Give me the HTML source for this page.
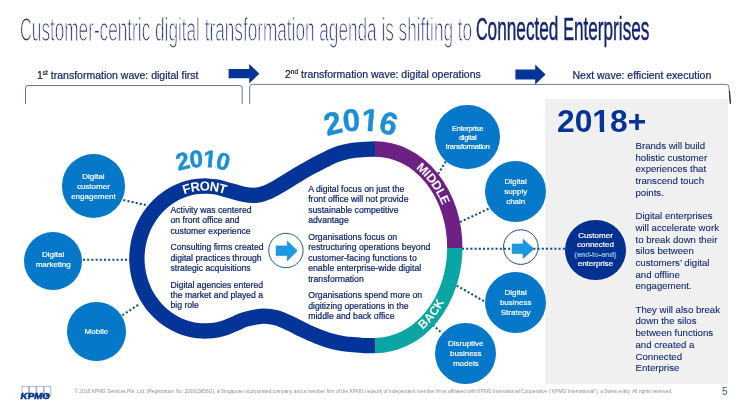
<!DOCTYPE html>
<html lang="en">
<head>
<meta charset="utf-8">
<title>Customer-centric digital transformation agenda</title>
<style>
html,body{margin:0;padding:0;}
body{width:746px;height:412px;position:relative;overflow:hidden;background:#fff;font-family:"Liberation Sans",Arial,sans-serif;color:#00338D;}
.abs{position:absolute;white-space:nowrap;}
#title{left:20px;top:11.2px;font-size:34px;line-height:36px;height:36px;}
#title span{display:inline-block;transform-origin:0 50%;}
#t1{transform:scaleX(0.5054);color:#252f72;-webkit-text-stroke:1.2px #fff;}
#t2{position:absolute;left:456.4px;top:-0.6px;font-size:33.4px;transform:scaleX(0.5152);color:#14266f;-webkit-text-stroke:0.5px #14266f;}
.wave{font-size:10.5px;line-height:12px;color:#12256b;-webkit-text-stroke:0.2px #12256b;}
.wave .k{color:#1a1a1a;-webkit-text-stroke:0.2px #1a1a1a;}
.wave sup{font-size:6.5px;line-height:0;vertical-align:baseline;position:relative;top:-4px;}
#panel{left:545px;top:99px;width:183.3px;height:285px;background:#f0f0f0;}
.bub{position:absolute;border-radius:50%;background:#0578C9;color:#fff;text-align:center;font-size:8px;line-height:10px;display:flex;align-items:center;justify-content:center;}
.bub div{white-space:nowrap;position:relative;top:0.6px;-webkit-text-stroke:0.2px #fff;}
.body{font-size:8.65px;line-height:10.45px;color:#0a2370;white-space:nowrap;-webkit-text-stroke:0.2px #0a2370;}
.body p{margin:0 0 6.1px 0;}
#rt{left:635.5px;top:139.9px;font-size:9.65px;line-height:11.7px;color:#0d2674;white-space:nowrap;-webkit-text-stroke:0.08px #0d2674;}
#foot{left:74.4px;top:389.4px;font-size:4.875px;line-height:6px;color:#8e8e8e;}
#pg{left:722px;top:386.3px;font-size:10px;line-height:12px;color:#41548c;}
svg{position:absolute;left:0;top:0;}
</style>
</head>
<body>
<div id="panel" class="abs"></div>

<div id="title" class="abs"><span id="t1"><span style="font-size:32.4px">C</span>ustomer-centric digital transformation agenda is shifting to</span><span id="t2"><span style="font-size:31.2px">C</span>onnected <span style="font-size:31.2px">E</span>nterprises</span></div>

<div class="abs wave" id="w1" style="left:37px;top:68.8px;"><span class="k">1<sup>st</sup></span> transformation wave: digital first</div>
<div class="abs wave" id="w2" style="left:285px;top:67.9px;"><span class="k">2<sup>nd</sup></span> transformation wave: digital operations</div>
<div class="abs wave" id="w3" style="left:572.5px;top:68.9px;">Next wave: efficient execution</div>

<svg width="746" height="412" viewBox="0 0 746 412">
  <defs>
    <path id="pFront" d="M375.00 345.60 C372.33 345.63 367.93 345.72 365.00 345.60 C362.07 345.48 360.93 345.20 357.40 344.90 C353.87 344.60 348.30 344.47 343.80 343.80 C339.30 343.13 334.87 342.17 330.40 340.90 C325.93 339.63 321.47 337.98 317.00 336.20 C312.53 334.42 308.07 332.32 303.60 330.20 C299.13 328.08 294.67 325.55 290.20 323.50 C285.73 321.45 281.27 319.13 276.80 317.90 C272.33 316.67 267.87 316.05 263.40 316.10 C258.93 316.15 253.28 317.57 250.00 318.20 C246.72 318.83 246.03 319.05 243.70 319.90 C241.37 320.75 238.94 322.04 236.00 323.30 C233.06 324.56 229.24 326.35 226.04 327.45 C222.85 328.55 219.94 329.31 216.83 329.90 C213.71 330.48 210.53 330.84 207.38 330.96 C204.22 331.07 201.02 330.95 197.88 330.60 C194.74 330.25 191.59 329.66 188.53 328.85 C185.46 328.03 182.42 326.98 179.49 325.72 C176.56 324.46 173.69 322.97 170.95 321.29 C168.21 319.61 165.56 317.70 163.07 315.63 C160.58 313.56 158.21 311.28 156.01 308.86 C153.82 306.44 151.76 303.84 149.91 301.11 C148.05 298.39 146.35 295.51 144.87 292.54 C143.39 289.57 142.09 286.46 141.01 283.30 C139.93 280.14 139.04 276.86 138.39 273.57 C137.73 270.28 137.29 266.91 137.07 263.56 C136.85 260.20 136.85 256.80 137.07 253.44 C137.29 250.09 137.73 246.72 138.39 243.43 C139.04 240.14 139.93 236.86 141.01 233.70 C142.09 230.54 143.39 227.43 144.87 224.46 C146.35 221.49 148.05 218.61 149.91 215.89 C151.76 213.16 153.82 210.56 156.01 208.14 C158.21 205.72 160.58 203.44 163.07 201.37 C165.56 199.30 168.21 197.39 170.95 195.71 C173.69 194.03 176.56 192.54 179.49 191.28 C182.42 190.02 185.46 188.97 188.53 188.15 C191.59 187.34 194.74 186.75 197.88 186.40 C201.02 186.05 204.22 185.93 207.38 186.04 C210.53 186.16 213.71 186.52 216.83 187.10 C219.94 187.69 221.61 188.37 226.04 189.55 C230.47 190.73 238.27 193.27 243.40 194.20 C248.53 195.13 252.33 195.65 256.80 195.10 C261.27 194.55 265.73 192.85 270.20 190.90 C274.67 188.95 279.13 186.03 283.60 183.40 C288.07 180.77 292.53 177.77 297.00 175.10 C301.47 172.43 305.93 169.85 310.40 167.40 C314.87 164.95 319.93 162.37 323.80 160.40 C327.67 158.43 330.07 157.00 333.60 155.60 C337.13 154.20 341.43 152.90 345.00 152.00 C348.57 151.10 351.67 150.65 355.00 150.20 C358.33 149.75 361.67 149.50 365.00 149.30 C368.33 149.10 372.33 149.02 375.00 149.00"/>
    <path id="pPurple" d="M375.00 149.00 A79.80 98.30 0 0 1 454.80 247.30 L454.80 247.90"/>
    <path id="pTealRev" d="M375.00 345.60 A79.80 98.30 0 0 0 454.80 247.30"/>
    <path id="arc2010" d="M152.5 186 A75 75 0 0 1 252.5 186"/>
    <path id="arc2016" d="M300.5 150.2 A102 102 0 0 1 420.5 150.2"/>
  </defs>

  <!-- brackets -->
  <path d="M25.5 104 V88 Q25.5 85.5 28 85.5 H239.7 Q242.2 85.5 242.2 88 V104" fill="none" stroke="#5f6b82" stroke-width="0.9"/>
  <path d="M249.7 104 V87 Q249.7 84.4 252.2 84.4 H726.4 Q728.7 84.4 729 87 L730.4 103.8" fill="none" stroke="#5f6b82" stroke-width="0.9"/>
  <path d="M729.4 91 L730.4 103.8" fill="none" stroke="#16275f" stroke-width="1.2"/>

  <!-- header arrows -->
  <path d="M228.6 69.1 H249.2 V64 L259.4 73.7 L249.2 83.4 V78.3 H228.6 Z" fill="#043497"/>
  <path d="M515.4 69.4 H535.2 V64.4 L545.6 74.4 L535.2 84.5 V79.5 H515.4 Z" fill="#043497"/>

  <!-- dotted connectors -->
  <g fill="none" stroke="#0B4C93" stroke-width="2.1" stroke-dasharray="2 2.2">
    <path d="M123.4 200 L148 205.5"/>
    <path d="M83 259.8 L130 259.8"/>
    <path d="M122.4 315.2 L140 303.7"/>
    <path d="M445.8 161.5 L437.5 175"/>
    <path d="M488.5 208.8 L459.6 222.2"/>
    <path d="M462 248.8 L566 248.8"/>
    <path d="M456.7 285.6 L485.6 302.1"/>
    <path d="M432.8 324.8 L441.7 333"/>
  </g>

  <!-- ring -->
  <g fill="none" stroke-width="15.3" stroke-linejoin="round">
    <path d="M375.00 345.60 C372.33 345.63 367.93 345.72 365.00 345.60 C362.07 345.48 360.93 345.20 357.40 344.90 C353.87 344.60 348.30 344.47 343.80 343.80 C339.30 343.13 334.87 342.17 330.40 340.90 C325.93 339.63 321.47 337.98 317.00 336.20 C312.53 334.42 308.07 332.32 303.60 330.20 C299.13 328.08 294.67 325.55 290.20 323.50 C285.73 321.45 281.27 319.13 276.80 317.90 C272.33 316.67 267.87 316.05 263.40 316.10 C258.93 316.15 253.28 317.57 250.00 318.20 C246.72 318.83 246.03 319.05 243.70 319.90 C241.37 320.75 238.94 322.04 236.00 323.30 C233.06 324.56 229.24 326.35 226.04 327.45 C222.85 328.55 219.94 329.31 216.83 329.90 C213.71 330.48 210.53 330.84 207.38 330.96 C204.22 331.07 201.02 330.95 197.88 330.60 C194.74 330.25 191.59 329.66 188.53 328.85 C185.46 328.03 182.42 326.98 179.49 325.72 C176.56 324.46 173.69 322.97 170.95 321.29 C168.21 319.61 165.56 317.70 163.07 315.63 C160.58 313.56 158.21 311.28 156.01 308.86 C153.82 306.44 151.76 303.84 149.91 301.11 C148.05 298.39 146.35 295.51 144.87 292.54 C143.39 289.57 142.09 286.46 141.01 283.30 C139.93 280.14 139.04 276.86 138.39 273.57 C137.73 270.28 137.29 266.91 137.07 263.56 C136.85 260.20 136.85 256.80 137.07 253.44 C137.29 250.09 137.73 246.72 138.39 243.43 C139.04 240.14 139.93 236.86 141.01 233.70 C142.09 230.54 143.39 227.43 144.87 224.46 C146.35 221.49 148.05 218.61 149.91 215.89 C151.76 213.16 153.82 210.56 156.01 208.14 C158.21 205.72 160.58 203.44 163.07 201.37 C165.56 199.30 168.21 197.39 170.95 195.71 C173.69 194.03 176.56 192.54 179.49 191.28 C182.42 190.02 185.46 188.97 188.53 188.15 C191.59 187.34 194.74 186.75 197.88 186.40 C201.02 186.05 204.22 185.93 207.38 186.04 C210.53 186.16 213.71 186.52 216.83 187.10 C219.94 187.69 221.61 188.37 226.04 189.55 C230.47 190.73 238.27 193.27 243.40 194.20 C248.53 195.13 252.33 195.65 256.80 195.10 C261.27 194.55 265.73 192.85 270.20 190.90 C274.67 188.95 279.13 186.03 283.60 183.40 C288.07 180.77 292.53 177.77 297.00 175.10 C301.47 172.43 305.93 169.85 310.40 167.40 C314.87 164.95 319.93 162.37 323.80 160.40 C327.67 158.43 330.07 157.00 333.60 155.60 C337.13 154.20 341.43 152.90 345.00 152.00 C348.57 151.10 351.67 150.65 355.00 150.20 C358.33 149.75 361.67 149.50 365.00 149.30 C368.33 149.10 372.33 149.02 375.00 149.00" stroke="#043497"/>
    <path d="M454.80 247.30 A79.80 98.30 0 0 1 375.00 345.60" stroke="#0BA6A4"/>
    <path d="M375.00 149.00 A79.80 98.30 0 0 1 454.80 247.30 L454.80 247.90" stroke="#6E2184"/>
  </g>

  <!-- arrow icons -->
  <circle cx="285.9" cy="250.5" r="17.2" fill="#fff" stroke="#1C5E9E" stroke-width="1"/>
  <path d="M276.1 245.9 H287.3 V241.1 L297.3 250.7 L287.3 260.8 V255.4 H276.1 Z" fill="#1A9AE0" stroke="#1783c4" stroke-width="0.6"/>
  <circle cx="520.8" cy="247.1" r="17.3" fill="none" stroke="#1C4F92" stroke-width="1"/>
  <path d="M512.2 244 H523.1 V239.3 L533.9 248.9 L523.1 258.5 V253.6 H512.2 Z" fill="#1A9AE0" stroke="#1783c4" stroke-width="0.6"/>

  <!-- curved labels -->
  <g font-family="Liberation Sans, Arial, sans-serif" font-weight="bold" fill="#fff">
    <text font-size="13" dy="4.6" text-anchor="middle"><textPath href="#pFront" startOffset="398.2">FRONT</textPath></text>
    <text font-size="12.5" dy="4.5" text-anchor="middle"><textPath href="#pPurple" startOffset="71.4">MIDDLE</textPath></text>
    <text font-size="12" dy="2.6" text-anchor="middle"><textPath href="#pTealRev" startOffset="67.5">BACK</textPath></text>
  </g>
  <g font-family="Liberation Sans, Arial, sans-serif" font-weight="bold" fill="#1B8FD6">
    <text font-size="24" letter-spacing="-1.1" stroke="#1B8FD6" stroke-width="0.5"><textPath href="#arc2010" startOffset="50%" text-anchor="middle">2010</textPath></text>
    <text font-size="31.5" letter-spacing="-0.6" stroke="#1B8FD6" stroke-width="0.4"><textPath href="#arc2016" startOffset="50%" text-anchor="middle">2016</textPath></text>
  </g>
  <g fill="#fff">
    <g transform="translate(369.25 131.07) rotate(4.92) translate(-8.76 0)"><rect x="1.2" y="-3.75" width="5.9" height="4.5"/><rect x="11.9" y="-3.75" width="5.4" height="4.5"/></g>
    <g transform="translate(209.17 167.2) rotate(5.1) translate(-6.67 0)"><rect x="0.8" y="-3" width="4.5" height="3.7"/><rect x="9.2" y="-3" width="3.9" height="3.7"/></g>
  </g>
  <text x="557" y="132.2" font-family="Liberation Sans, Arial, sans-serif" font-weight="bold" font-size="31.8" fill="#043497">2018+</text>
  <path d="M593.6 127.8 H599.8 V132.8 H593.6 Z M604.25 127.8 H609.8 V132.8 H604.25 Z" fill="#f0f0f0"/>

  <!-- KPMG logo -->
  <g fill="none" stroke="#8e9bc0" stroke-width="0.7">
    <rect x="22" y="386.3" width="6.6" height="10"/>
    <rect x="29.4" y="386.3" width="6.6" height="10"/>
    <rect x="36.8" y="386.3" width="6.6" height="10"/>
    <rect x="44.2" y="386.3" width="6.6" height="10"/>
  </g>
  <text x="20.6" y="398.6" font-family="Liberation Sans, Arial, sans-serif" font-weight="bold" font-style="italic" font-size="9.2" fill="#00338D" stroke="#00338D" stroke-width="0.5" textLength="29.3" lengthAdjust="spacingAndGlyphs">KPMG</text>
</svg>

<!-- bubbles -->
<div class="bub" style="left:61.6px;top:154.4px;width:63.6px;height:63.6px;"><div>Digital<br>customer<br>engagement</div></div>
<div class="bub" style="left:24.1px;top:231.8px;width:58.2px;height:58.2px;"><div style="top:-0.9px">Digital<br>marketing</div></div>
<div class="bub" style="left:67.2px;top:302.2px;width:58.4px;height:58.4px;"><div>Mobile</div></div>
<div class="bub" style="left:435.4px;top:104.5px;width:64.6px;height:64.6px;font-size:7.4px;line-height:9.1px;letter-spacing:-0.25px;"><div>Enterprise<br>digital<br>transformation</div></div>
<div class="bub" style="left:485.2px;top:160.5px;width:61px;height:61px;"><div>Digital<br>supply<br>chain</div></div>
<div class="bub" style="left:485.2px;top:271.6px;width:61px;height:61px;"><div>Digital<br>business<br>Strategy</div></div>
<div class="bub" style="left:435.4px;top:323px;width:60.8px;height:60.8px;"><div>Disruptive<br>business<br>models</div></div>
<div class="bub" style="left:565.4px;top:220px;width:60.2px;height:60.2px;background:#03318F;font-size:8px;line-height:9.4px;"><div style="top:-0.5px">Customer<br>connected<br><span style="color:#2384D6;font-weight:bold;font-size:7.2px;">(end-to-end)</span><br>enterprise</div></div>

<!-- inner text -->
<div class="abs body" id="b1" style="left:170.5px;top:204.6px;">
<p>Activity was centered<br>on front office and<br>customer experience</p>
<p>Consulting firms created<br>digital practices through<br>strategic acquisitions</p>
<p>Digital agencies entered<br>the market and played a<br>big role</p>
</div>
<div class="abs body" id="b2" style="left:308.2px;top:183.8px;font-size:8.7px;">
<p>A digital focus on just the<br>front office will not provide<br>sustainable competitive<br>advantage</p>
<p>Organisations focus on<br>restructuring operations beyond<br>customer-facing functions to<br>enable enterprise-wide digital<br>transformation</p>
<p>Organisations spend more on<br>digitizing operations in the<br>middle and back office</p>
</div>

<div class="abs" id="rt">Brands will build<br>holistic customer<br>experiences that<br>transcend touch<br>points.<br><br>Digital enterprises<br>will accelerate work<br>to break down their<br>silos between<br>customers’ digital<br>and offline<br>engagement.<br><br>They will also break<br>down the silos<br>between functions<br>and created a<br>Connected<br>Enterprise</div>

<div class="abs" id="foot">© 2016 KPMG Services Pte. Ltd. (Registration No: 200003956G), a Singapore incorporated company and a member firm of the KPMG network of independent member firms affiliated with KPMG International Cooperative (“KPMG International”), a Swiss entity. All rights reserved.</div>
<div class="abs" id="pg">5</div>
</body>
</html>
